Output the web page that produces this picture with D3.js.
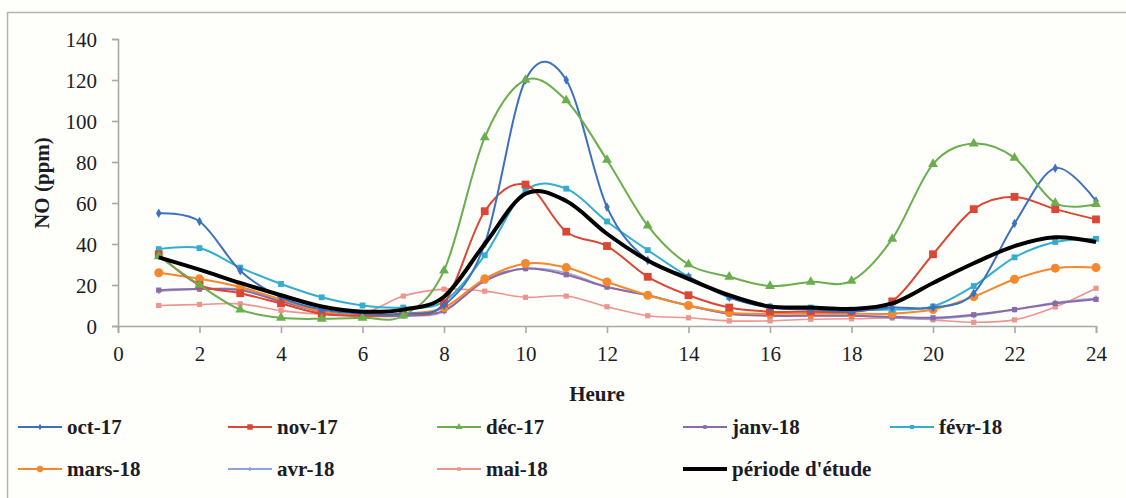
<!DOCTYPE html>
<html>
<head>
<meta charset="utf-8">
<script src="https://cdn.jsdelivr.net/npm/d3@7"></script>
<style>
  html, body { margin: 0; padding: 0; background: #fefefb; }
  svg { display: block; }
  svg text { font-family: "Liberation Serif", "Tinos", "Times New Roman", "DejaVu Serif", serif !important; fill: #1c1c24; }
</style>
</head>
<body>
<svg id="chart" width="1126" height="498"></svg>
<script>
const hours = d3.range(1, 25);

const oct17  = [55, 51, 27, 14, 8, 6, 6, 10, 40, 120, 120, 58, 32, 24, 14, 9, 8, 7, 9, 9, 16, 50, 77, 61];
const nov17  = [35, 20, 16, 11, 6, 5, 6, 11, 56, 69, 46, 39, 24, 15, 9, 7, 7, 7, 12, 35, 57, 63, 57, 52];
const dec17  = [34, 20, 8, 4, 3.5, 4, 5, 27, 92, 120, 110, 81, 49, 30, 24, 19.5, 21.5, 22, 42.5, 79, 89, 82, 60, 59.5];
const janv18 = [17.5, 18, 17.5, 12, 7, 5, 5, 7.5, 22, 28, 25, 19, 15, 10, 6, 5, 5, 5, 4.5, 4, 5.5, 8, 11, 13];
const fevr18 = [37.5, 38, 28.5, 20.5, 14, 10, 9, 12, 34.5, 66, 67, 51, 37, 24, 14, 9.5, 9, 8, 8, 9.5, 19.5, 33.5, 41, 42.5];
const mars18 = [26, 23, 19, 13, 7, 5, 6, 9, 23, 30.5, 28.5, 21.5, 15, 10, 6.5, 6, 6, 6, 6, 8, 14.3, 22.8, 28.2, 28.5];
const avr18  = [17, 18, 18, 12.5, 7, 5, 5, 7, 23, 28, 26, 19, 15, 9.8, 6, 5, 5, 5, 4, 3.5, 5, 8, 11.5, 13.5];
const mai18  = [10, 10.5, 10.8, 7.5, 5.8, 6, 14.6, 18, 17, 14, 14.6, 9.4, 5, 4, 2.5, 2.5, 3.3, 3.5, 3.9, 3, 1.8, 3, 9.3, 18.4];
const periode = [33.5, 27.5, 21, 15, 9.5, 7, 8, 14.3, 40, 64.5, 61, 45, 32, 23, 15, 9.5, 9, 8.3, 11, 21, 30.6, 39, 43.3, 41];

const seriesNames = ["oct-17", "nov-17", "déc-17", "janv-18", "févr-18", "mars-18", "avr-18", "mai-18", "période d'étude"];
const seriesValues = [oct17, nov17, dec17, janv18, fevr18, mars18, avr18, mai18, periode];
const seriesColors = ["#3d70bf", "#dc4634", "#6aae4e", "#8a6aa8", "#34aed0", "#f5882c", "#8fa3d4", "#ee948e", "#000000"];
const seriesMarkers = ["diamond", "square", "triangle", "square", "square", "circle", "cross", "square", "none"];

const xTicks = d3.range(0, 25, 2);
const yTicks = d3.range(0, 141, 20);

const svg = d3.select("#chart");

// outer frame
svg.append("rect")
    .attr("x", 7.5).attr("y", 12.5)
    .attr("width", 1140).attr("height", 520)
    .attr("fill", "#fefefb")
    .attr("stroke", "#b4b4b4")
    .attr("stroke-width", 1.5);

const x = d3.scaleLinear().domain([0, 24]).range([118, 1096]);
const y = d3.scaleLinear().domain([0, 140]).range([326, 39]);

// axes
const xAxis = svg.append("g")
    .attr("transform", `translate(0,${y(0)})`)
    .call(d3.axisBottom(x).tickValues(xTicks).tickSize(7).tickPadding(13));
const yAxis = svg.append("g")
    .attr("transform", `translate(${x(0)},0)`)
    .call(d3.axisLeft(y).tickValues(yTicks).tickSize(6).tickPadding(15));

[xAxis, yAxis].forEach(g => {
    g.attr("font-family", null);
    g.selectAll(".domain, line").attr("stroke", "#a8a8a8").attr("stroke-width", 1.6);
    g.selectAll("text")
        .style("font-size", "21px")
        .attr("fill", "#1c1c24");
});
yAxis.selectAll("text").attr("dy", "0.35em");

// axis titles
svg.append("text")
    .attr("x", 597).attr("y", 401)
    .attr("text-anchor", "middle")
    .style("font-size", "21px").style("font-weight", "bold")
    .text("Heure");

svg.append("text")
    .attr("transform", "translate(49,183) rotate(-90)")
    .attr("text-anchor", "middle")
    .style("font-size", "21px").style("font-weight", "bold")
    .text("NO (ppm)");

// lines
const line = d3.line()
    .x((d, i) => x(hours[i]))
    .y(d => y(d))
    .curve(d3.curveCatmullRom.alpha(0));

function drawMarker(g, type, color, cx, cy, s) {
    if (type === "none") return;
    if (type === "circle") {
        g.append("circle").attr("cx", cx).attr("cy", cy).attr("r", s * 0.75).attr("fill", color);
    } else if (type === "square") {
        g.append("rect").attr("x", cx - s * 0.65).attr("y", cy - s * 0.65)
            .attr("width", s * 1.3).attr("height", s * 1.3).attr("fill", color);
    } else if (type === "diamond") {
        g.append("path").attr("d", d3.symbol(d3.symbolDiamond, s * s * 1.3)())
            .attr("transform", `translate(${cx},${cy})`).attr("fill", color);
    } else if (type === "triangle") {
        g.append("path").attr("d", d3.symbol(d3.symbolTriangle, s * s * 1.4)())
            .attr("transform", `translate(${cx},${cy})`).attr("fill", color);
    } else if (type === "cross") {
        g.append("path").attr("d", `M${cx - s * 0.7},${cy}H${cx + s * 0.7}M${cx},${cy - s * 0.7}V${cy + s * 0.7}`)
            .attr("stroke", color).attr("stroke-width", 1.5);
    }
}

const markerSize = [4.5, 6, 5.5, 4, 4.5, 6, 4, 4, 0];

const order = [7, 6, 3, 5, 4, 1, 0, 2, 8];
order.forEach(k => {
    const g = svg.append("g");
    g.append("path")
        .datum(seriesValues[k])
        .attr("d", line)
        .attr("fill", "none")
        .attr("stroke", seriesColors[k])
        .attr("stroke-width", k === 8 ? 4 : (k === 6 || k === 7 ? 1.6 : 2))
        .attr("stroke-opacity", k === 6 ? 0.9 : 1);
    seriesValues[k].forEach((v, i) => {
        drawMarker(g, seriesMarkers[k], seriesColors[k], x(hours[i]), y(v), markerSize[k]);
    });
});

// legend
const legendX = [18, 228, 437, 683, 890];
const legendY = [427, 469];
seriesNames.forEach((name, k) => {
    const lx = legendX[k % 5];
    const ly = legendY[Math.floor(k / 5)];
    const g = svg.append("g");
    g.append("line")
        .attr("x1", lx).attr("x2", lx + 44)
        .attr("y1", ly).attr("y2", ly)
        .attr("stroke", seriesColors[k])
        .attr("stroke-width", k === 8 ? 4 : 2);
    drawMarker(g, seriesMarkers[k], seriesColors[k], lx + 22, ly, markerSize[k] * 0.7);
    g.append("text")
        .attr("x", lx + 49).attr("y", ly + 7)
        .style("font-size", "21px").style("font-weight", "bold")
        .text(name);
});
</script>
</body>
</html>
